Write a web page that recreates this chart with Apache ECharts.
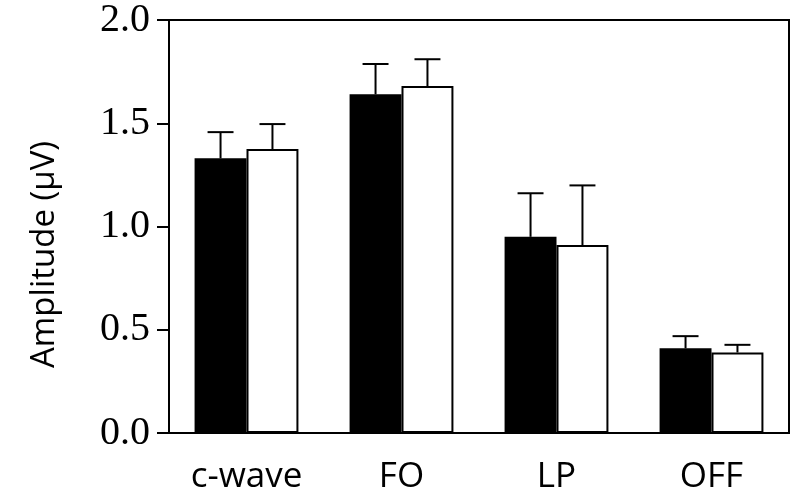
<!DOCTYPE html>
<html lang="en">
<head>
    <meta charset="UTF-8">
    <title>Amplitude</title>
    <script src="https://cdn.jsdelivr.net/npm/echarts@6/dist/echarts.min.js"></script>
    <style type="text/css">
        html, body { margin: 0; padding: 0; background: #fff; }
        #chart { width: 799px; height: 496px; }
    </style>
</head>
<body>
<div id="chart"></div>
<script>
    // data
    var categories = ['c-wave', 'FO', 'LP', 'OFF'];
    var blackMean = [1.33, 1.64, 0.95, 0.41];
    var blackErr = [0.127, 0.147, 0.211, 0.059];
    var whiteMean = [1.375, 1.68, 0.91, 0.39];
    var whiteErr = [0.121, 0.13, 0.289, 0.037];
    var yTicks = [0, 0.5, 1.0, 1.5, 2.0];

    var chart = echarts.init(document.getElementById('chart'));

    var catGap = 0.33; // fraction of band left empty

    // error bar (upper only) drawn via the axes
    function errorBar(side) {
        return function (params, api) {
            var idx = api.value(0);
            var mean = api.value(1);
            var err = api.value(2);
            var band = api.size([1, 0])[0];
            var barW = band * (1 - catGap) / 2;
            var base = api.coord([idx, mean]);
            var top = api.coord([idx, mean + err]);
            var x = base[0] + side * barW / 2;
            var capHalf = barW / 4;
            var style = { stroke: '#000', lineWidth: 2 };
            return {
                type: 'group',
                children: [
                    { type: 'line', shape: { x1: x, y1: base[1], x2: x, y2: top[1] }, style: style },
                    { type: 'line', shape: { x1: x - capHalf, y1: top[1], x2: x + capHalf, y2: top[1] }, style: style }
                ]
            };
        };
    }

    function errData(mean, err) {
        return mean.map(function (m, i) { return [i, m, err[i]]; });
    }

    var option = {
        animation: false,
        backgroundColor: '#fff',
        grid: {
            left: 169, right: 10, top: 20, bottom: 63,
            show: true, borderColor: '#000', borderWidth: 2, backgroundColor: 'transparent'
        },
        xAxis: {
            type: 'category',
            data: categories,
            axisLine: { lineStyle: { color: '#000', width: 2 } },
            axisTick: { show: false },
            axisLabel: {
                color: '#000', fontFamily: 'Open Sans', fontSize: 35, margin: 27
            }
        },
        yAxis: {
            type: 'value',
            min: 0, max: 2, interval: 0.5,
            name: 'Amplitude (\u03bcV)',
            nameLocation: 'middle',
            nameGap: 108,
            nameRotate: 90,
            nameTextStyle: { color: '#000', fontFamily: 'Open Sans', fontSize: 33, padding: [0, 56, 0, 0] },
            axisLine: { show: true, lineStyle: { color: '#000', width: 2 } },
            axisTick: { show: true, length: 12, lineStyle: { color: '#000', width: 2 } },
            splitLine: { show: false },
            axisLabel: {
                color: '#000', fontFamily: 'Liberation Serif', fontSize: 40, margin: 19,
                customValues: yTicks,
                formatter: function (v) { return v.toFixed(1); }
            }
        },
        series: [
            {
                type: 'bar',
                data: blackMean,
                barGap: '0%',
                barCategoryGap: (catGap * 100) + '%',
                itemStyle: { color: '#000', borderColor: '#000', borderWidth: 1.5 }
            },
            {
                type: 'bar',
                data: whiteMean,
                itemStyle: { color: '#fff', borderColor: '#000', borderWidth: 2 }
            },
            {
                type: 'custom',
                renderItem: errorBar(-1),
                data: errData(blackMean, blackErr),
                encode: { x: 0, y: 1 },
                z: 5
            },
            {
                type: 'custom',
                renderItem: errorBar(1),
                data: errData(whiteMean, whiteErr),
                encode: { x: 0, y: 1 },
                z: 5
            }
        ]
    };

    chart.setOption(option);
</script>
</body>
</html>
